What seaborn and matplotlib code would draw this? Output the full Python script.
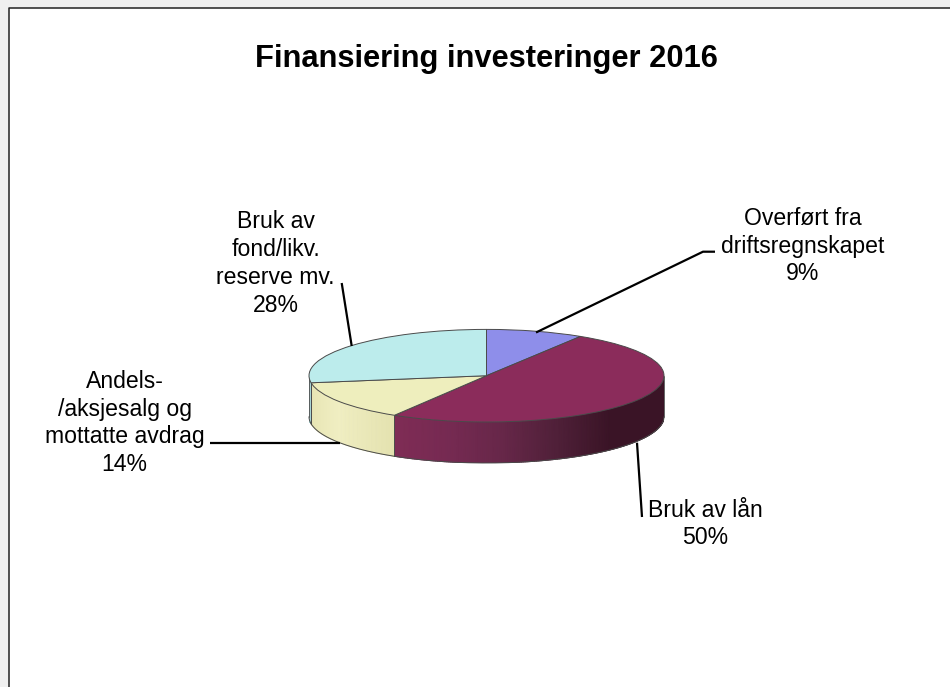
# Finansiering investeringer 2016 - 3D style pie
import numpy as np
import matplotlib
matplotlib.use('Agg')
import matplotlib.pyplot as plt
from matplotlib.patches import Rectangle
import seaborn as sns

title = 'Finansiering investeringer 2016'
names = ['Overført fra\ndriftsregnskapet', 'Bruk av lån',
         'Andels-\n/aksjesalg og\nmottatte avdrag', 'Bruk av\nfond/likv.\nreserve mv.']
values = [8.9, 49.9, 13.9, 27.5]
pct_labels = ['9%', '50%', '14%', '28%']
top_colors = ['#8e8eea', '#8b2c5b', '#eeeebd', '#bcecec']
side_colors = [['#8e8eea', '#8e8eea'],
               ['#7f2c55', '#762a52', '#672749', '#502039', '#3a1426', '#3a1426'],
               ['#e4e2b0', '#f0eec2', '#e6e4b2'],
               ['#a8d4d4', '#a8d4d4']]

W, H = 950, 687
CX, CY, RX, RY, DEPTH = 486.5, 375.7, 177.5, 46.3, 41

sns.set_theme(style='white')
plt.rcParams['font.family'] = ['Liberation Sans', 'DejaVu Sans']

fig = plt.figure(figsize=(W / 100, H / 100), dpi=100, facecolor='white')

# page background and frame, pixel coordinates
bg = fig.add_axes([0, 0, 1, 1])
bg.set_xlim(0, W)
bg.set_ylim(H, 0)
bg.axis('off')
bg.add_patch(Rectangle((0, 0), W, 7.5, color='#f0f0f0', lw=0))
bg.add_patch(Rectangle((0, 0), 8.5, H, color='#f0f0f0', lw=0))
bg.plot([9, 9, W], [H, 7.5, 7.5], color='#222222', lw=1.1)

# pie axes: one unit in y is RY pixels, so the pie gets flattened
d = DEPTH / RY
pie_ax = fig.add_axes([(CX - RX) / W, 1 - (CY + RY + DEPTH) / H, 2 * RX / W, (2 * RY + DEPTH) / H])
pie_ax.patch.set_alpha(0)

# side wall, only the front half (90 to 270 deg clockwise from 12 o'clock) shows
fracs = np.cumsum([0] + values) / np.sum(values)
edge_col = '#4a4a4a'
for i in range(len(values)):
    a0 = max(fracs[i] * 360, 90)
    a1 = min(fracs[i + 1] * 360, 270)
    if a1 <= a0:
        continue
    t = np.radians(np.linspace(a0, a1, 200))
    x = np.sin(t)
    y = np.cos(t)
    X = np.vstack([x, x])
    Y = np.vstack([y, y - d])
    pos = (t - t[0]) / (t[-1] - t[0])
    # plum shades with x, the other slices along their arc
    C = np.vstack([x, x]) if i == 1 else np.vstack([pos, pos])
    cmap = sns.blend_palette(side_colors[i], as_cmap=True)
    pie_ax.pcolormesh(X, Y, C, shading='gouraud', cmap=cmap, zorder=1)
    pie_ax.plot(x, y - d, color=edge_col, lw=0.7, zorder=2, clip_on=False)
    pie_ax.plot([x[0], x[0]], [y[0], y[0] - d], color=edge_col, lw=0.6, zorder=2, clip_on=False)
    pie_ax.plot([x[-1], x[-1]], [y[-1], y[-1] - d], color=edge_col, lw=0.6, zorder=2, clip_on=False)

wedges, _ = pie_ax.pie(values, colors=top_colors, startangle=90, counterclock=False,
                       radius=1, wedgeprops={'edgecolor': edge_col, 'linewidth': 0.7})
for w in wedges:
    w.set_zorder(3)
    w.set_clip_on(False)
pie_ax.set_aspect('auto')
pie_ax.set_xlim(-1, 1)
pie_ax.set_ylim(-1 - d, 1)
pie_ax.axis('off')

# overlay for title, labels, leader lines
ov = fig.add_axes([0, 0, 1, 1])
ov.set_xlim(0, W)
ov.set_ylim(H, 0)
ov.axis('off')
ov.patch.set_alpha(0)

ov.text(486, 59, title, ha='center', va='center', fontsize=22.2, fontweight='bold', color='black')

label_pos = [(802.5, 246), (705, 524), (124.5, 423), (275.6, 263.5)]
for name, pct, (lx, ly) in zip(names, pct_labels, label_pos):
    ov.text(lx, ly, name + '\n' + pct, ha='center', va='center', fontsize=16.6,
            color='black', linespacing=1.27)

leaders = [([536, 703, 715], [332.5, 251.7, 251.7]),
           ([637, 642], [442.7, 517]),
           ([340, 210], [442.7, 442.7]),
           ([351.7, 341.7], [346, 283])]
for lx, ly in leaders:
    ov.plot(lx, ly, color='black', lw=1.6, solid_capstyle='butt')

plt.savefig('out.png', dpi=100)
plt.close()
